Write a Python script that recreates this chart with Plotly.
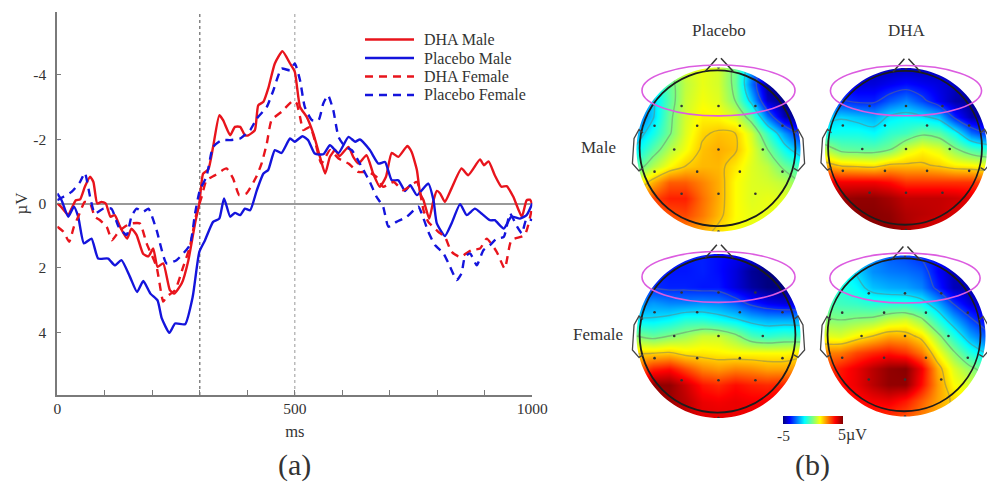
import numpy as np
import plotly.graph_objects as go

# ---------- panel (a): ERP waveforms (ms, microvolts) ----------
dha_male_t = [0,9,23,30,39,48,58,69,76,84,93,102,112,121,132,147,156,167,181,192,202,211,223,237,246,262,276,290,299,307,318,328,341,349,364,374,385,395,402,416,423,434,444,458,474,490,500,511,525,539,553,564,574,585,594,613,623,634,651,665,679,692,704,718,737,746,757,764,771,783,792,799,806,816,830,851,865,890,898,908,921,935,946,960,978,988,995,1000]
dha_male_v = [0,.12,.36,.16,-.10,-.13,-.52,-.83,-.67,0,-.05,0,.41,.36,.72,1.09,.78,.98,1.57,1.64,1.40,1.97,1.86,2.69,2.80,2.48,1.76,.62,0,-.93,-1.06,-1.76,-2.74,-2.59,-2.12,-2.38,-2.38,-2.12,-2.12,-2.28,-3.05,-3.16,-3.57,-4.35,-4.73,-4.35,-4.09,-3.0,-2.69,-2.17,-1.45,-.93,-1.45,-1.66,-1.47,-1.76,-1.45,-1.24,-1.50,-.93,-.52,-.83,-1.57,-1.45,-1.79,-1.60,-1.04,-.31,-.10,.47,-.10,-.39,-.31,-.05,-.47,-1.09,-.88,-1.37,-1.19,-1.31,-.88,-.52,-.54,-.21,.41,-.10,-.12,.02]

placebo_male_t = [0,9,23,35,44,56,72,86,107,121,135,153,168,181,196,211,220,236,248,269,285,299,311,328,341,351,364,374,385,395,406,420,434,444,458,472,490,500,516,528,542,560,574,592,613,627,637,658,676,690,704,718,732,743,757,781,792,799,816,830,848,862,879,893,911,921,940,956,974,988,1000]
placebo_male_v = [-.31,-.10,.41,.10,.41,1.24,1.09,1.71,1.71,1.92,1.76,2.28,2.75,2.41,2.80,3.01,3.57,4.02,3.73,3.75,2.90,1.50,1.14,.57,.47,-.16,.41,.29,.36,.16,.21,-.41,-.93,-1.04,-1.66,-1.57,-2.02,-1.92,-2.09,-1.97,-1.55,-1.53,-1.81,-1.57,-2.07,-1.92,-1.99,-1.66,-1.24,-1.29,-.72,-.72,-.39,-.57,-.26,-.62,-.10,.62,1.01,.62,.02,.36,.16,.31,.52,.52,.78,.41,.47,.36,0]

dha_female_t = [0,13,25,35,44,58,69,79,90,104,115,129,142,156,174,188,209,223,230,248,265,279,293,304,314,332,356,370,383,398,419,430,441,451,472,497,504,511,518,532,542,556,574,592,613,634,655,672,686,708,728,757,771,781,802,816,830,848,872,890,904,925,942,956,984,1000]
dha_female_v = [.72,.88,1.19,.72,.41,-.05,0,.41,.52,.72,1.14,.88,.72,.62,.62,1.24,1.97,3.05,2.90,2.69,1.97,1.35,.31,-.21,-.72,-.88,-1.09,-.78,-.26,-.31,-.83,-1.24,-1.86,-2.59,-2.85,-3.2,-3.11,-2.69,-2.28,-2.38,-1.97,-1.24,-1.66,-1.40,-1.24,-.98,-.98,-.83,-.52,-.67,-.41,-.67,.21,.57,.88,1.04,1.50,1.66,1.45,1.40,1.09,1.50,2.02,1.14,.98,.10]

placebo_female_t = [0,13,30,48,58,69,79,97,114,129,146,156,167,181,192,209,230,251,279,290,300,314,328,346,364,385,406,420,441,455,472,490,500,511,521,536,550,560,570,581,592,606,620,637,658,672,686,697,714,736,760,771,781,795,813,827,841,851,858,869,883,897,911,925,940,953,968,978,988,1000]
placebo_female_v = [-.10,-.21,-.36,-.67,-.95,-.21,.31,.16,.16,.72,.98,.41,.16,.26,.16,.83,1.86,1.76,1.29,.31,-.41,-.83,-1.76,-1.97,-1.97,-2.02,-2.28,-2.64,-3.0,-3.52,-4.19,-4.14,-4.35,-3.83,-3.0,-2.59,-2.59,-3.11,-3.36,-2.90,-2.07,-1.76,-1.66,-1.24,-.67,-.21,.10,.72,.57,.41,.10,.47,.88,1.29,1.55,1.97,2.38,2.17,1.66,1.55,1.92,1.45,1.29,1.09,1.04,.31,.72,.93,.47,.52]

x_ticks = [0,100,200,300,400,500,600,700,800,900,1000]
x_tick_labels = ["0","","","","","500","","","","","1000"]
y_ticks = [-4,-2,0,2,4]
y_tick_labels = ["-4","-2","0","2","4"]

# ---------- panel (b): scalp maps, microvolts, rows from front (top) to back ----------
grid = [-1,-.8,-.6,-.4,-.2,0,.2,.4,.6,.8,1]
placebo_male_map = [
 [-1,-.5,0,.8,1,.8,-.2,-2.4,-4.2,-5,-5],
 [-2.5,-1.5,-.3,.6,1,.8,-.2,-2.8,-4.8,-5,-5],
 [-3,-1.8,-.4,.7,1.1,.9,0,-2,-4.4,-5,-5],
 [-3,-1.8,-.2,.8,1.3,1.2,.8,-.4,-2.8,-4.6,-5],
 [-2.2,-1.2,-.1,.9,1.6,1.8,1.7,.8,-.8,-2.4,-3.7],
 [-1.5,-.4,.5,1.1,1.8,2,1.8,1,0,-1.3,-2.3],
 [-.5,.5,1.2,1.7,1.9,1.9,1.4,.9,.6,-.2,-.8],
 [1,2,2.8,2.8,2.4,2,1.2,.9,.8,.6,0],
 [2,3,3.4,3.4,2.6,2,1.2,.9,1,.9,.6],
 [2,2.6,2.9,3,2.5,1.9,1.2,1,1,1,.8],
 [1.5,2,2.2,2.3,2,1.5,1.1,1,1,1,1]]
dha_male_map = [
 [-4.5,-4.5,-4.5,-4.5,-4.5,-4.5,-4.5,-4.5,-4.5,-4.5,-4.5],
 [-4,-4,-4.2,-4.2,-4,-3.8,-4,-4.2,-4.4,-4.4,-4.4],
 [-3.4,-3.4,-3.6,-3.6,-3,-2.6,-3.2,-4,-4.6,-4.8,-4.8],
 [-2,-1.8,-2,-2.2,-1.6,-1.4,-1.6,-2,-3.6,-4.6,-4.8],
 [-1.3,-1.2,-1.2,-1.4,-.9,-.7,-.2,-.4,-1.3,-2.8,-3.5],
 [.5,-.3,-.4,-.4,-.1,.8,1.2,.9,.1,-.6,-1],
 [2,1.6,1.5,1.4,1.8,1.8,1.8,1.6,1.3,1.2,1],
 [4,3.8,3.8,3.8,3.6,3.2,3.2,3.2,3.2,3.2,3],
 [4.5,4.7,4.8,4.8,4.6,4.3,4.3,4.3,4.2,4,3.8],
 [4.3,4.7,4.9,4.9,4.8,4.5,4.4,4.3,4.1,3.9,3.6],
 [3.8,4.5,4.7,4.9,4.9,4.6,4.2,4,3.8,3.6,3.3]]
placebo_female_map = [
 [-3.5,-3.5,-3.6,-3.6,-3.6,-3.8,-4,-4,-4.2,-4.2,-4.2],
 [-3.5,-3.5,-3.7,-3.7,-3.6,-3.8,-4.2,-4.8,-5,-5,-5],
 [-3.5,-3.5,-3.6,-3.6,-3.7,-3.7,-4.2,-4.7,-5,-5,-5],
 [-2.6,-2.4,-2.6,-2.6,-2.5,-2.6,-3,-3.6,-4,-4.2,-4.2],
 [-1.6,-1.6,-1.4,-1,-1,-1.3,-1.6,-2,-2.2,-2.2,-2.2],
 [0,-.3,0,.3,.7,.7,.2,-.6,-.9,-.7,-.8],
 [1.6,1.6,1.7,1.4,1.4,1.3,1.2,1.2,1.2,1.2,1.4],
 [2.7,3.4,3.6,3,2.4,2.2,2.4,2.3,2.1,2.1,2.3],
 [3.7,4.8,4.8,4.2,3.5,3.3,3.6,3.4,3.3,3.4,3.6],
 [3.8,4.6,4.7,4.4,3.9,3.8,3.9,3.8,3.8,4.1,4.4],
 [3.8,4.3,4.4,4.3,4,4,3.9,3.9,4,4.3,4.6]]
dha_female_map = [
 [-1,-1.5,-2,-2.5,-3,-3.2,-3.5,-3.8,-4,-4,-4],
 [-1,-1.2,-1.8,-2.5,-2.7,-2.8,-3,-3.9,-4.5,-4.4,-4.4],
 [-.9,-1,-1.4,-2,-2.2,-2.3,-2.6,-3.6,-4.5,-4.6,-4.6],
 [-.5,-.7,-.8,-1,-1,-1,-1.3,-2.2,-3.4,-4.2,-4.5],
 [.1,0,.1,.2,.6,.8,.2,-1,-2.2,-3.2,-4],
 [1,.9,1.3,1.7,2.1,2,1.5,.3,-1,-2.2,-3],
 [2.4,2.5,3,3.3,3.5,3.2,2.5,1.2,.1,-1,-1.8],
 [3.1,3.5,3.9,4.4,4.8,4.9,3.8,2,.9,.2,-.4],
 [3.2,3.6,3.9,4.4,4.8,4.8,3.6,2.2,1.2,.8,.3],
 [3,3.3,3.6,3.8,3.9,3.5,2.8,2.1,1.6,1.1,.8],
 [2.5,3,3.3,3.3,3.2,2.9,2.4,2,1.5,1.1,.8]]
electrode_x = [-.32,0,.32,-.45,0,.45,-.78,-.26,.26,.78,-1.08,-.54,0,.54,1.08,-.78,-.26,.26,.78,-.87,-.45,0,.45,.87,-.32,0,.32]
electrode_y = [1,1,1,.53,.53,.53,.29,.29,.29,.29,0,0,0,0,0,-.27,-.27,-.27,-.27,-.63,-.54,-.54,-.54,-.63,-1,-1,-1]

legend_names = ["DHA Male", "Placebo Male", "DHA Female", "Placebo Female"]

# ---------- layout geometry ----------
W, H = 987, 485
FONT = "Liberation Serif"
INK = "#333333"
AX = "#7a7a7a"
RED, BLUE = "#e8141c", "#1414dc"
DASH = "8px,6px"
JET = [[0, "#00007f"], [.11, "#0000ff"], [.36, "#00ffff"], [.5, "#7fff7f"], [.62, "#ffff00"], [.87, "#ff0000"], [1, "#7f0000"]]
PX0, PX1, PY0, PY1 = 57.3, 532.3, 12, 395
panels = [  # map, cx, cy, r in pixels
    (placebo_male_map, 718.5, 149.5, 82),
    (dha_male_map, 906, 149, 81),
    (placebo_female_map, 718.5, 336, 82),
    (dha_female_map, 905, 336, 80.5),
]

fig = go.Figure()
styles = [(RED, "solid"), (BLUE, "solid"), (RED, DASH), (BLUE, DASH)]
series = [(dha_male_t, dha_male_v), (placebo_male_t, placebo_male_v),
          (dha_female_t, dha_female_v), (placebo_female_t, placebo_female_v)]
for name, (t, v), (col, dash) in zip(legend_names, series, styles):
    fig.add_trace(go.Scatter(x=t, y=v, name=name, mode="lines", showlegend=False,
                             line=dict(color=col, width=2.4, dash=dash, shape="spline", smoothing=.5)))

shapes = [
    dict(type="line", xref="x", yref="paper", x0=300, x1=300, y0=1-PY1/H, y1=1-PY0/H,
         line=dict(color="#666666", width=1.2, dash="dot"), layer="below"),
    dict(type="line", xref="x", yref="paper", x0=500, x1=500, y0=1-PY1/H, y1=1-PY0/H,
         line=dict(color="#aaaaaa", width=1.2, dash="dot"), layer="below"),
]
layout_axes = {}
theta = np.linspace(0, 2*np.pi, 121)
for i, (zmap, cx, cy, r) in enumerate(panels):
    n = i + 2
    xa, ya = f"x{n}", f"y{n}"
    x_lo, x_hi = cx - 1.2*r, min(W, cx + 1.2*r)
    y_top, y_bot = max(0, cy - 1.2*r), min(H, cy + 1.2*r)
    layout_axes[f"xaxis{n}"] = dict(domain=[x_lo/W, x_hi/W], range=[(x_lo-cx)/r, (x_hi-cx)/r],
                                    visible=False, anchor=ya, fixedrange=True)
    layout_axes[f"yaxis{n}"] = dict(domain=[1-y_bot/H, 1-y_top/H], range=[(cy-y_bot)/r, (cy-y_top)/r],
                                    visible=False, anchor=xa, fixedrange=True)
    z = zmap[::-1]
    y = grid
    fig.add_trace(go.Heatmap(x=grid, y=y, z=z, coloraxis="coloraxis", zsmooth="best",
                             xaxis=xa, yaxis=ya, showlegend=False))
    fig.add_trace(go.Contour(x=grid, y=y, z=z, xaxis=xa, yaxis=ya, showscale=False, showlegend=False,
                             autocontour=False, contours=dict(start=-3.4, end=1.7, size=1.7, coloring="none"),
                             line=dict(color="rgba(110,120,110,.45)", width=1.4, smoothing=1), hoverinfo="skip"))
    fig.add_trace(go.Scatter(x=electrode_x, y=electrode_y, mode="markers", xaxis=xa, yaxis=ya, showlegend=False,
                             marker=dict(size=2.6, color="#333333")))
    # white mask rounds the map into a disc (heatmap bricks reach half a cell past the grid)
    m = 1.12
    circ = " L".join(f"{np.cos(a):.4f},{np.sin(a):.4f}" for a in theta)
    shapes.append(dict(type="path", xref=xa, yref=ya, fillcolor="white", line=dict(width=0),
                       path=f"M{-m},{-m} L{m},{-m} L{m},{m} L{-m},{m} Z M{circ} Z"))
    # head outline, nose, ears
    shapes.append(dict(type="circle", xref=xa, yref=ya, x0=-.962, x1=.938, y0=-.935, y1=.965,
                       line=dict(color="#1c1c1c", width=1.8)))
    shapes.append(dict(type="path", xref=xa, yref=ya, line=dict(color="#333333", width=1.5),
                       path="M-.162,.95 L-.02,1.113"))
    shapes.append(dict(type="path", xref=xa, yref=ya, line=dict(color="#333333", width=1.5),
                       path="M.18,.95 L.03,1.113"))
    for s in (-1, 1):
        pts = [(-.92, .2), (-.97, .243), (-1.03, .135), (-1.05, -.17), (-.97, -.26), (-.92, -.23)]
        shapes.append(dict(type="path", xref=xa, yref=ya, line=dict(color="#444444", width=1.3),
                           path="M" + " L".join(f"{-s*px:.3f},{py:.3f}" for px, py in pts)))
    # magenta ellipse
    shapes.append(dict(type="circle", xref=xa, yref=ya, x0=-.933, x1=.933, y0=.41, y1=1.03,
                       line=dict(color="#dc5ce0", width=1.6)))

def label(text, px, py, size=17, anchor="center"):
    return dict(text=text, x=px/W, y=1-py/H, xref="paper", yref="paper", showarrow=False,
                xanchor=anchor, yanchor="middle", font=dict(family=FONT, size=size, color=INK))

annotations = [
    label("Placebo", 719, 31), label("DHA", 907, 31),
    label("Male", 598, 147), label("Female", 598, 334),
    label("-5", 783, 435, 15.5), label("5µV", 852, 435, 16),
    label("(a)", 294, 465, 30), label("(b)", 812, 465, 30),
]
# hand-placed key: plotly's own legend cannot pack rows this tightly
for name, (col, dash), py in zip(legend_names, styles, [39.5, 58, 76.5, 95]):
    shapes.append(dict(type="line", xref="paper", yref="paper", x0=365/W, x1=414/W, y0=1-py/H, y1=1-py/H,
                       line=dict(color=col, width=2.4, dash=dash)))
    annotations.append(label(name, 422, py, 16, "left"))

fig.update_layout(
    width=W, height=H, autosize=False, margin=dict(l=0, r=0, t=0, b=0, autoexpand=False),
    paper_bgcolor="white", plot_bgcolor="white", showlegend=False,
    font=dict(family=FONT, size=15.5, color=INK),
    xaxis=dict(domain=[PX0/W, PX1/W], range=[0, 1000], tickmode="array", tickvals=x_ticks, ticktext=x_tick_labels,
               ticks="inside", ticklen=5, tickcolor=AX, showline=True, linecolor=AX, linewidth=2, showgrid=False,
               zeroline=False, tickfont=dict(family=FONT, size=15.5, color=INK), anchor="y", ticklabelstandoff=-2,
               title=dict(text="ms", font=dict(family=FONT, size=16.5, color=INK), standoff=10)),
    yaxis=dict(domain=[1-PY1/H, 1-PY0/H], range=[5.95, -5.95], tickmode="array", tickvals=y_ticks, ticktext=y_tick_labels,
               ticks="inside", ticklen=4, tickcolor=AX, showline=True, linecolor=AX, linewidth=2, showgrid=False,
               zeroline=True, zerolinecolor="#999999", zerolinewidth=1.6,
               tickfont=dict(family=FONT, size=15.5, color=INK), anchor="x", ticklabelstandoff=6,
               title=dict(text="µV", font=dict(family=FONT, size=17, color=INK), standoff=1)),
    coloraxis=dict(cmin=-5, cmax=5, colorscale=JET,
                   colorbar=dict(orientation="h", x=783/W, xanchor="left", y=1-416/H, yanchor="top",
                                 len=60, lenmode="pixels", thickness=8, thicknessmode="pixels",
                                 outlinewidth=0, showticklabels=False, ticks="", xpad=0, ypad=0)),
    shapes=shapes, annotations=annotations, **layout_axes,
)
fig.write_html("out.html", config={"displayModeBar": False},
               post_script="document.body.style.margin='0';document.documentElement.style.overflow='hidden';")
